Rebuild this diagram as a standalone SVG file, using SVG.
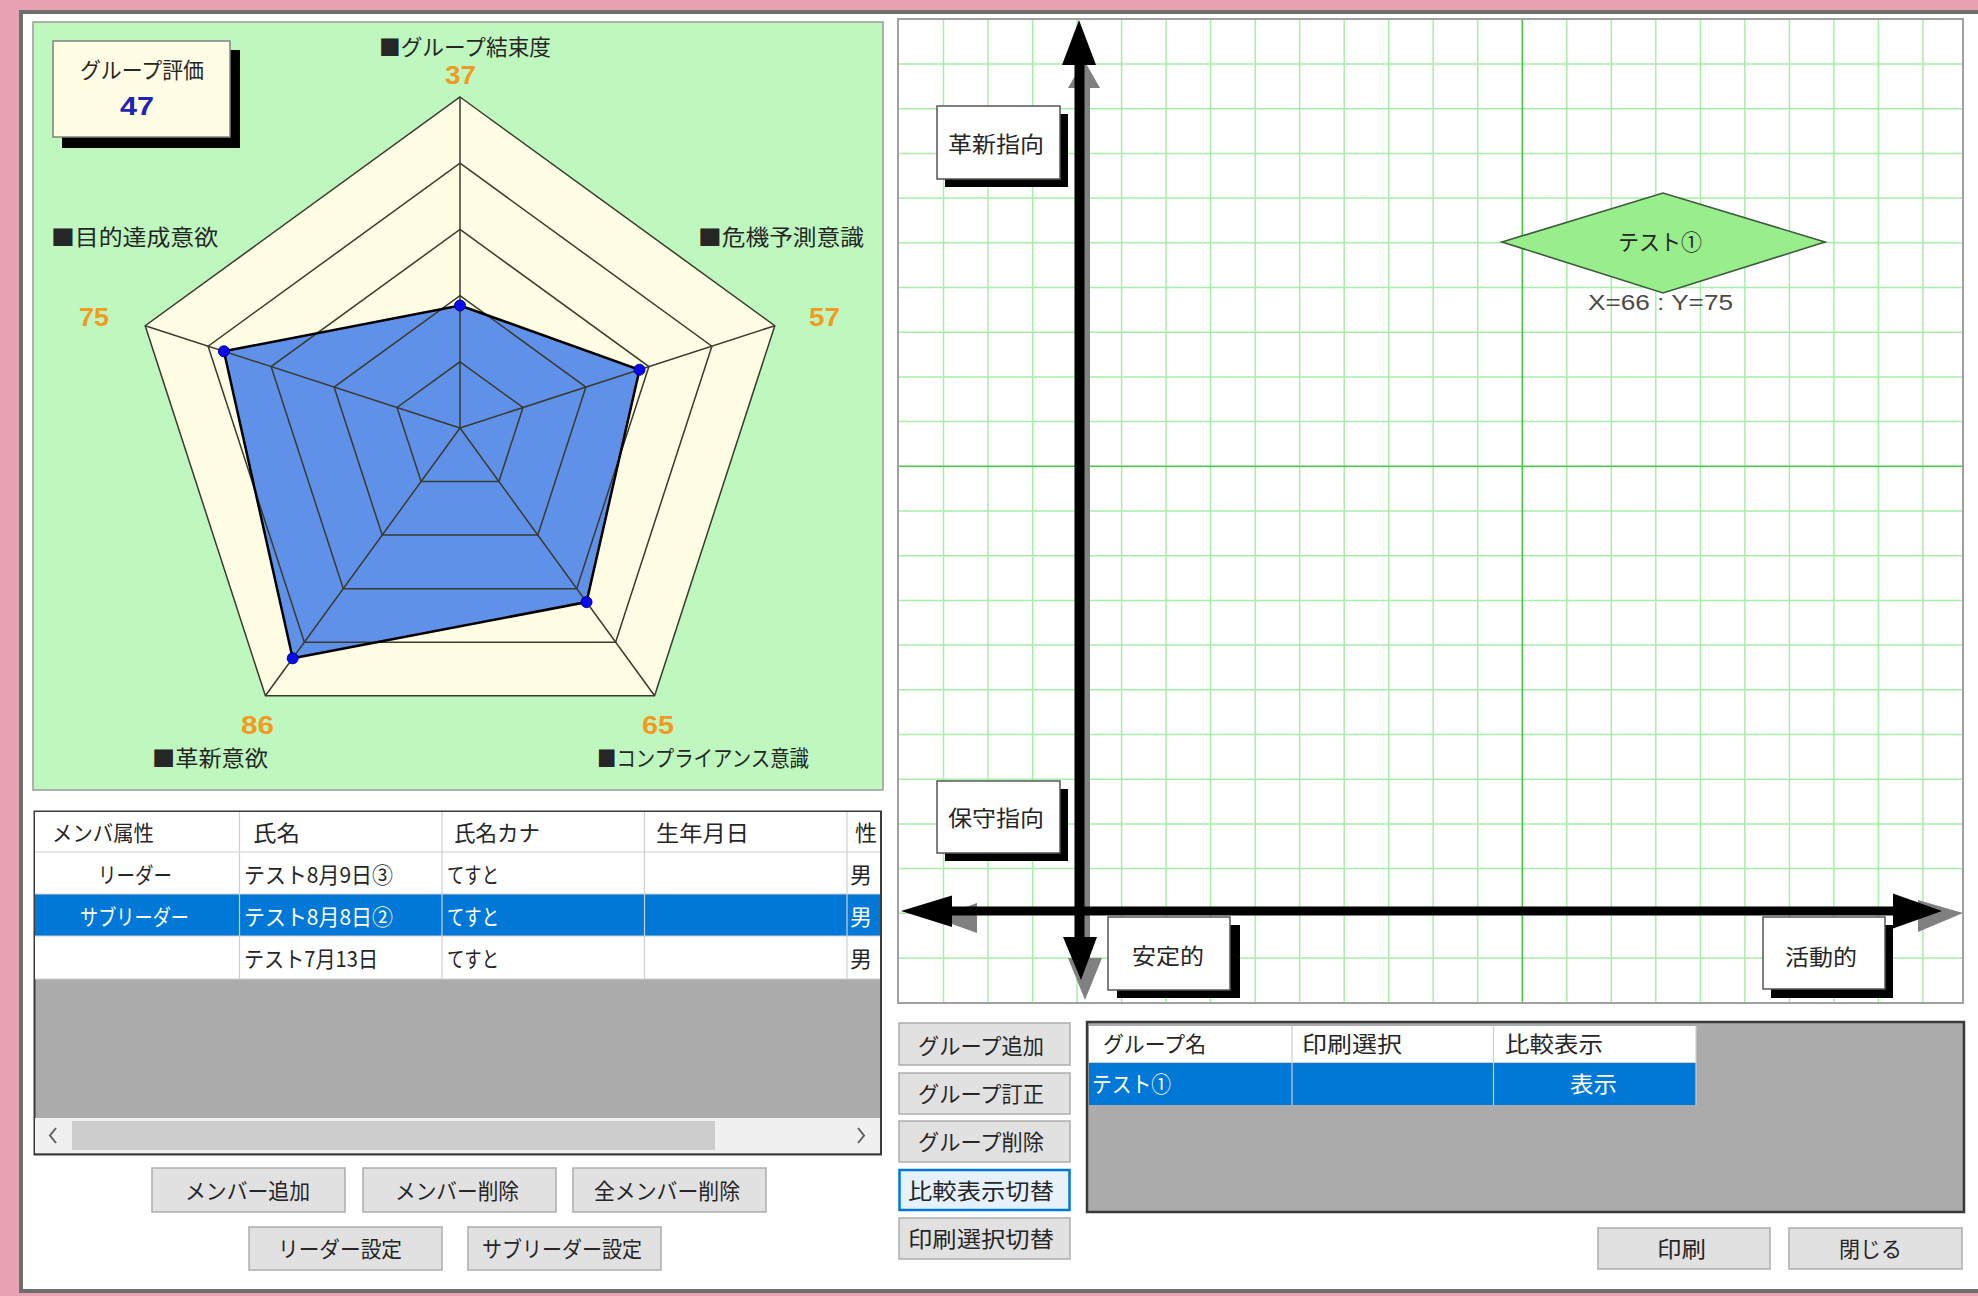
<svg xmlns="http://www.w3.org/2000/svg" width="1978" height="1296" viewBox="0 0 1978 1296">
<defs>
<style>
text{font-family:"Noto Sans CJK JP","Noto Sans CJK SC",sans-serif;fill:#262626;font-size:22px}
.num{font-family:"Liberation Sans",Arial,sans-serif;font-weight:bold;font-size:25px;fill:#F39A22}
.btn{fill:#e1e1e1;stroke:#adadad;stroke-width:1.5}
.rl{fill:none;stroke:#3a3a2e;stroke-width:1.5}
.g{fill:none;stroke:#a6f0a6;stroke-width:1.5}
.gm{fill:none;stroke:#3fcf3f;stroke-width:1.6}
.lbl{fill:#fff;stroke:#555;stroke-width:1.5}
.sh{fill:#000}
.cell{fill:none;stroke:#cfcfcf;stroke-width:1.2}
.w{fill:#fff}
</style>
<clipPath id="tclip"><rect x="35" y="812" width="845" height="306"/></clipPath>
</defs>

<g id="frame">
<rect x="0" y="0" width="1978" height="1296" fill="#fff"/>
<rect x="0" y="0" width="1978" height="10" fill="#E8A2B4"/>
<rect x="0" y="0" width="19" height="1296" fill="#E8A2B4"/>
<rect x="0" y="1293" width="1978" height="3" fill="#E8A2B4"/>
<rect x="19" y="10" width="1959" height="4" fill="#6e6e6e"/>
<rect x="19" y="10" width="4" height="1283" fill="#6e6e6e"/>
<rect x="19" y="1289" width="1959" height="4" fill="#6e6e6e"/>
</g>

<g id="radar-panel">
<rect x="33" y="22" width="850" height="768" fill="#bff8bf" stroke="#9a9a9a" stroke-width="1.5"/>
<polygon points="460,97 774.8,325.7 654.6,695.8 265.4,695.8 145.2,325.7" fill="#FFFDE3"/>
<polygon points="460,305.5 639.5,369.7 586.5,602.1 292.7,658.3 223.9,351.3" fill="#5F91E8"/>
<polygon class="rl" points="460,97 774.8,325.7 654.6,695.8 265.4,695.8 145.2,325.7"/>
<polygon class="rl" points="460,163.2 711.9,346.2 615.6,642.2 304.4,642.2 208.1,346.2"/>
<polygon class="rl" points="460,229.4 648.9,366.6 576.7,588.7 343.3,588.7 271.1,366.6"/>
<polygon class="rl" points="460,295.6 585.9,387.1 537.8,535.1 382.2,535.1 334.1,387.1"/>
<polygon class="rl" points="460,361.8 523,407.5 498.9,481.6 421.1,481.6 397,407.5"/>
<path class="rl" d="M460 428L460 97M460 428L774.8 325.7M460 428L654.6 695.8M460 428L265.4 695.8M460 428L145.2 325.7"/>
<polygon points="460,305.5 639.5,369.7 586.5,602.1 292.7,658.3 223.9,351.3" fill="none" stroke="#000" stroke-width="2.5"/>
<g fill="#0a0af0" stroke="#00008b" stroke-width="1">
<circle cx="460" cy="305.5" r="5.5"/><circle cx="639.5" cy="369.7" r="5.5"/><circle cx="586.5" cy="602.1" r="5.5"/><circle cx="292.7" cy="658.3" r="5.5"/><circle cx="223.9" cy="351.3" r="5.5"/>
</g>
<text x="379" y="55" font-size="21" textLength="172" lengthAdjust="spacingAndGlyphs">■グループ結束度</text>
<text x="51" y="245" font-size="21" textLength="167" lengthAdjust="spacingAndGlyphs">■目的達成意欲</text>
<text x="698" y="245" font-size="21" textLength="166" lengthAdjust="spacingAndGlyphs">■危機予測意識</text>
<text x="152" y="766" font-size="20" textLength="116" lengthAdjust="spacingAndGlyphs">■革新意欲</text>
<text x="597" y="766" font-size="20" textLength="212" lengthAdjust="spacingAndGlyphs">■コンプライアンス意識</text>
<text class="num" x="445" y="84" textLength="31" lengthAdjust="spacingAndGlyphs">37</text>
<text class="num" x="79" y="326" textLength="30" lengthAdjust="spacingAndGlyphs">75</text>
<text class="num" x="809" y="326" textLength="31" lengthAdjust="spacingAndGlyphs">57</text>
<text class="num" x="241" y="734" textLength="33" lengthAdjust="spacingAndGlyphs">86</text>
<text class="num" x="642" y="734" textLength="32" lengthAdjust="spacingAndGlyphs">65</text>
</g>

<g id="group-score">
<rect class="sh" x="62" y="50" width="178" height="98"/>
<rect x="53" y="41" width="177" height="96" fill="#FFFDE3" stroke="#808080" stroke-width="1.5"/>
<text x="80" y="78" font-size="21" textLength="124" lengthAdjust="spacingAndGlyphs">グループ評価</text>
<text class="num" x="120" y="115" style="fill:#2323b4" textLength="34" lengthAdjust="spacingAndGlyphs">47</text>
</g>

<g id="member-table">
<rect x="34.5" y="811.5" width="846.5" height="343" fill="#ababab" stroke="#3a3a3a" stroke-width="2"/>
<rect x="35" y="812" width="845" height="40" fill="#fff"/>
<rect x="35" y="852" width="845" height="42" fill="#fff"/>
<rect x="35" y="894" width="845" height="42" fill="#0078D7"/>
<rect x="35" y="936" width="845" height="43" fill="#fff"/>
<path class="cell" d="M239.5 812V979M442 812V979M644.5 812V979M847 812V979M35 852H880M35 894H880M35 936H880M35 979H880"/>
<g clip-path="url(#tclip)">
<text x="52" y="841" textLength="102" lengthAdjust="spacingAndGlyphs">メンバ属性</text>
<text x="253" y="841" textLength="47" lengthAdjust="spacingAndGlyphs">氏名</text>
<text x="454" y="841" textLength="86" lengthAdjust="spacingAndGlyphs">氏名カナ</text>
<text x="656" y="841" textLength="93" lengthAdjust="spacingAndGlyphs">生年月日</text>
<text x="855" y="841">性</text>
<text x="98" y="882.5" textLength="74" lengthAdjust="spacingAndGlyphs">リーダー</text>
<text x="244" y="882.5" textLength="149" lengthAdjust="spacingAndGlyphs">テスト8月9日③</text>
<text x="447" y="882.5" textLength="52" lengthAdjust="spacingAndGlyphs">てすと</text>
<text x="850" y="882.5">男</text>
<text x="80" y="924.5" style="fill:#fff" textLength="109" lengthAdjust="spacingAndGlyphs">サブリーダー</text>
<text x="244" y="924.5" style="fill:#fff" textLength="149" lengthAdjust="spacingAndGlyphs">テスト8月8日②</text>
<text x="447" y="924.5" style="fill:#fff" textLength="52" lengthAdjust="spacingAndGlyphs">てすと</text>
<text x="850" y="924.5" style="fill:#fff">男</text>
<text x="244" y="966.5" textLength="134" lengthAdjust="spacingAndGlyphs">テスト7月13日</text>
<text x="447" y="966.5" textLength="52" lengthAdjust="spacingAndGlyphs">てすと</text>
<text x="850" y="966.5">男</text>
</g>
<rect x="35" y="1118" width="845" height="35" fill="#f0f0f0"/>
<rect x="72" y="1121" width="643" height="29" fill="#cdcdcd"/>
<polyline points="56,1128 50,1135.5 56,1143" fill="none" stroke="#606060" stroke-width="2"/>
<polyline points="858,1128 864,1135.5 858,1143" fill="none" stroke="#606060" stroke-width="2"/>
</g>

<g id="member-buttons">
<rect class="btn" x="152" y="1168" width="193" height="44"/>
<text x="185" y="1198.5" textLength="125" lengthAdjust="spacingAndGlyphs">メンバー追加</text>
<rect class="btn" x="363" y="1168" width="193" height="44"/>
<text x="395" y="1198.5" textLength="124" lengthAdjust="spacingAndGlyphs">メンバー削除</text>
<rect class="btn" x="573" y="1168" width="193" height="44"/>
<text x="594" y="1198.5" textLength="146" lengthAdjust="spacingAndGlyphs">全メンバー削除</text>
<rect class="btn" x="249" y="1227" width="193" height="43"/>
<text x="278" y="1257" textLength="124" lengthAdjust="spacingAndGlyphs">リーダー設定</text>
<rect class="btn" x="468" y="1227" width="193" height="43"/>
<text x="482" y="1257" textLength="160" lengthAdjust="spacingAndGlyphs">サブリーダー設定</text>
</g>

<g id="map-panel">
<rect x="898" y="19" width="1065" height="984" fill="#fff" stroke="#a0a0a0" stroke-width="2"/>
<path class="g" d="M943.5 20V1002M988 20V1002M1032.6 20V1002M1077.1 20V1002M1121.6 20V1002M1166.1 20V1002M1210.6 20V1002M1255.2 20V1002M1299.7 20V1002M1344.2 20V1002M1388.7 20V1002M1433.2 20V1002M1477.8 20V1002M1566.8 20V1002M1611.3 20V1002M1655.8 20V1002M1700.4 20V1002M1744.9 20V1002M1789.4 20V1002M1833.9 20V1002M1878.4 20V1002M1923 20V1002"/>
<path class="g" d="M899 64H1962M899 108.7H1962M899 153.4H1962M899 198.1H1962M899 242.8H1962M899 287.5H1962M899 332.2H1962M899 376.9H1962M899 421.6H1962M899 511H1962M899 555.7H1962M899 600.4H1962M899 645.1H1962M899 689.8H1962M899 734.5H1962M899 779.2H1962M899 823.9H1962M899 868.6H1962M899 913.3H1962M899 958H1962"/>
<path class="gm" d="M1522.3 20V1002M899 466.3H1962"/>
</g>

<g id="connectors">
<g fill="#808080">
<rect x="1084" y="85" width="6" height="875"/>
<polygon points="1084,60 1068,88 1100,88"/>
<polygon points="1068,958 1102,958 1085,1000"/>
<polygon points="935,918 977,903 977,933"/>
<polygon points="1918,900 1918,932 1963,913"/>
</g>
<g fill="#000">
<rect x="1074.5" y="60" width="10" height="880"/>
<rect x="945" y="906.5" width="953" height="9"/>
<polygon points="1079,20 1062,65 1096,65"/>
<polygon points="1063,937 1097,937 1081,980"/>
<polygon points="901,911 952,895.5 952,927"/>
<polygon points="1942,911 1893,893.5 1893,928.5"/>
</g>
</g>

<g id="label-innovation">
<rect class="sh" x="945" y="114" width="123" height="73"/>
<rect class="lbl" x="937" y="106" width="123" height="73"/>
<text x="948" y="151.7" font-size="23" textLength="96" lengthAdjust="spacingAndGlyphs">革新指向</text>
</g>
<g id="label-conservative">
<rect class="sh" x="945" y="789" width="123" height="72"/>
<rect class="lbl" x="937" y="781" width="123" height="72"/>
<text x="948" y="825.7" font-size="23" textLength="96" lengthAdjust="spacingAndGlyphs">保守指向</text>
</g>
<g id="label-stable">
<rect class="sh" x="1117" y="925" width="123" height="73"/>
<rect class="lbl" x="1108" y="917" width="122" height="73"/>
<text x="1132" y="963.7" font-size="23" textLength="72" lengthAdjust="spacingAndGlyphs">安定的</text>
</g>
<g id="label-active">
<rect class="sh" x="1771" y="925" width="122" height="73"/>
<rect class="lbl" x="1763" y="917" width="122" height="72"/>
<text x="1785" y="965.4" font-size="23" textLength="72" lengthAdjust="spacingAndGlyphs">活動的</text>
</g>

<g id="group-test1">
<polygon points="1502,242 1663,193 1825,242 1663,293" fill="#99EE8C" stroke="#3d5a3d" stroke-width="1.6"/>
<text x="1618" y="250" font-size="22" textLength="84" lengthAdjust="spacingAndGlyphs">テスト①</text>
<text x="1588" y="310" style="font-family:'Liberation Sans',Arial,sans-serif;fill:#4a4a4a" font-size="20" textLength="145" lengthAdjust="spacingAndGlyphs">X=66 : Y=75</text>
</g>

<g id="group-buttons">
<rect class="btn" x="899" y="1023" width="171" height="42"/>
<text x="918" y="1053.5" textLength="126" lengthAdjust="spacingAndGlyphs">グループ追加</text>
<rect class="btn" x="899" y="1073" width="171" height="41"/>
<text x="918" y="1102" textLength="126" lengthAdjust="spacingAndGlyphs">グループ訂正</text>
<rect class="btn" x="899" y="1121" width="171" height="41"/>
<text x="918" y="1150" textLength="126" lengthAdjust="spacingAndGlyphs">グループ削除</text>
<rect x="899.5" y="1170" width="170" height="40" fill="#e5f1fb" stroke="#0078D7" stroke-width="2.5"/>
<text x="908" y="1198.5" textLength="146" lengthAdjust="spacingAndGlyphs">比較表示切替</text>
<rect class="btn" x="899" y="1218" width="171" height="41"/>
<text x="908" y="1247" textLength="146" lengthAdjust="spacingAndGlyphs">印刷選択切替</text>
</g>

<g id="group-table">
<rect x="1087" y="1022" width="877" height="190" fill="#ababab" stroke="#3a3a3a" stroke-width="2.5"/>
<rect x="1089" y="1026" width="607" height="36" fill="#fff"/>
<rect x="1089" y="1063" width="607" height="42" fill="#0078D7"/>
<path class="cell" d="M1292 1026V1105M1493.5 1026V1105M1696 1026V1105M1089 1062.5H1696"/>
<text x="1103" y="1052" textLength="103" lengthAdjust="spacingAndGlyphs">グループ名</text>
<text x="1302" y="1052" textLength="100" lengthAdjust="spacingAndGlyphs">印刷選択</text>
<text x="1505" y="1052" textLength="98" lengthAdjust="spacingAndGlyphs">比較表示</text>
<text x="1092" y="1092" style="fill:#fff" textLength="79" lengthAdjust="spacingAndGlyphs">テスト①</text>
<text x="1570" y="1092" style="fill:#fff" textLength="47" lengthAdjust="spacingAndGlyphs">表示</text>
</g>

<g id="print-close">
<rect class="btn" x="1598" y="1228" width="172" height="41"/>
<text x="1657" y="1257" textLength="49" lengthAdjust="spacingAndGlyphs">印刷</text>
<rect class="btn" x="1789" y="1228" width="173" height="41"/>
<text x="1839" y="1257" textLength="63" lengthAdjust="spacingAndGlyphs">閉じる</text>
</g>
</svg>
